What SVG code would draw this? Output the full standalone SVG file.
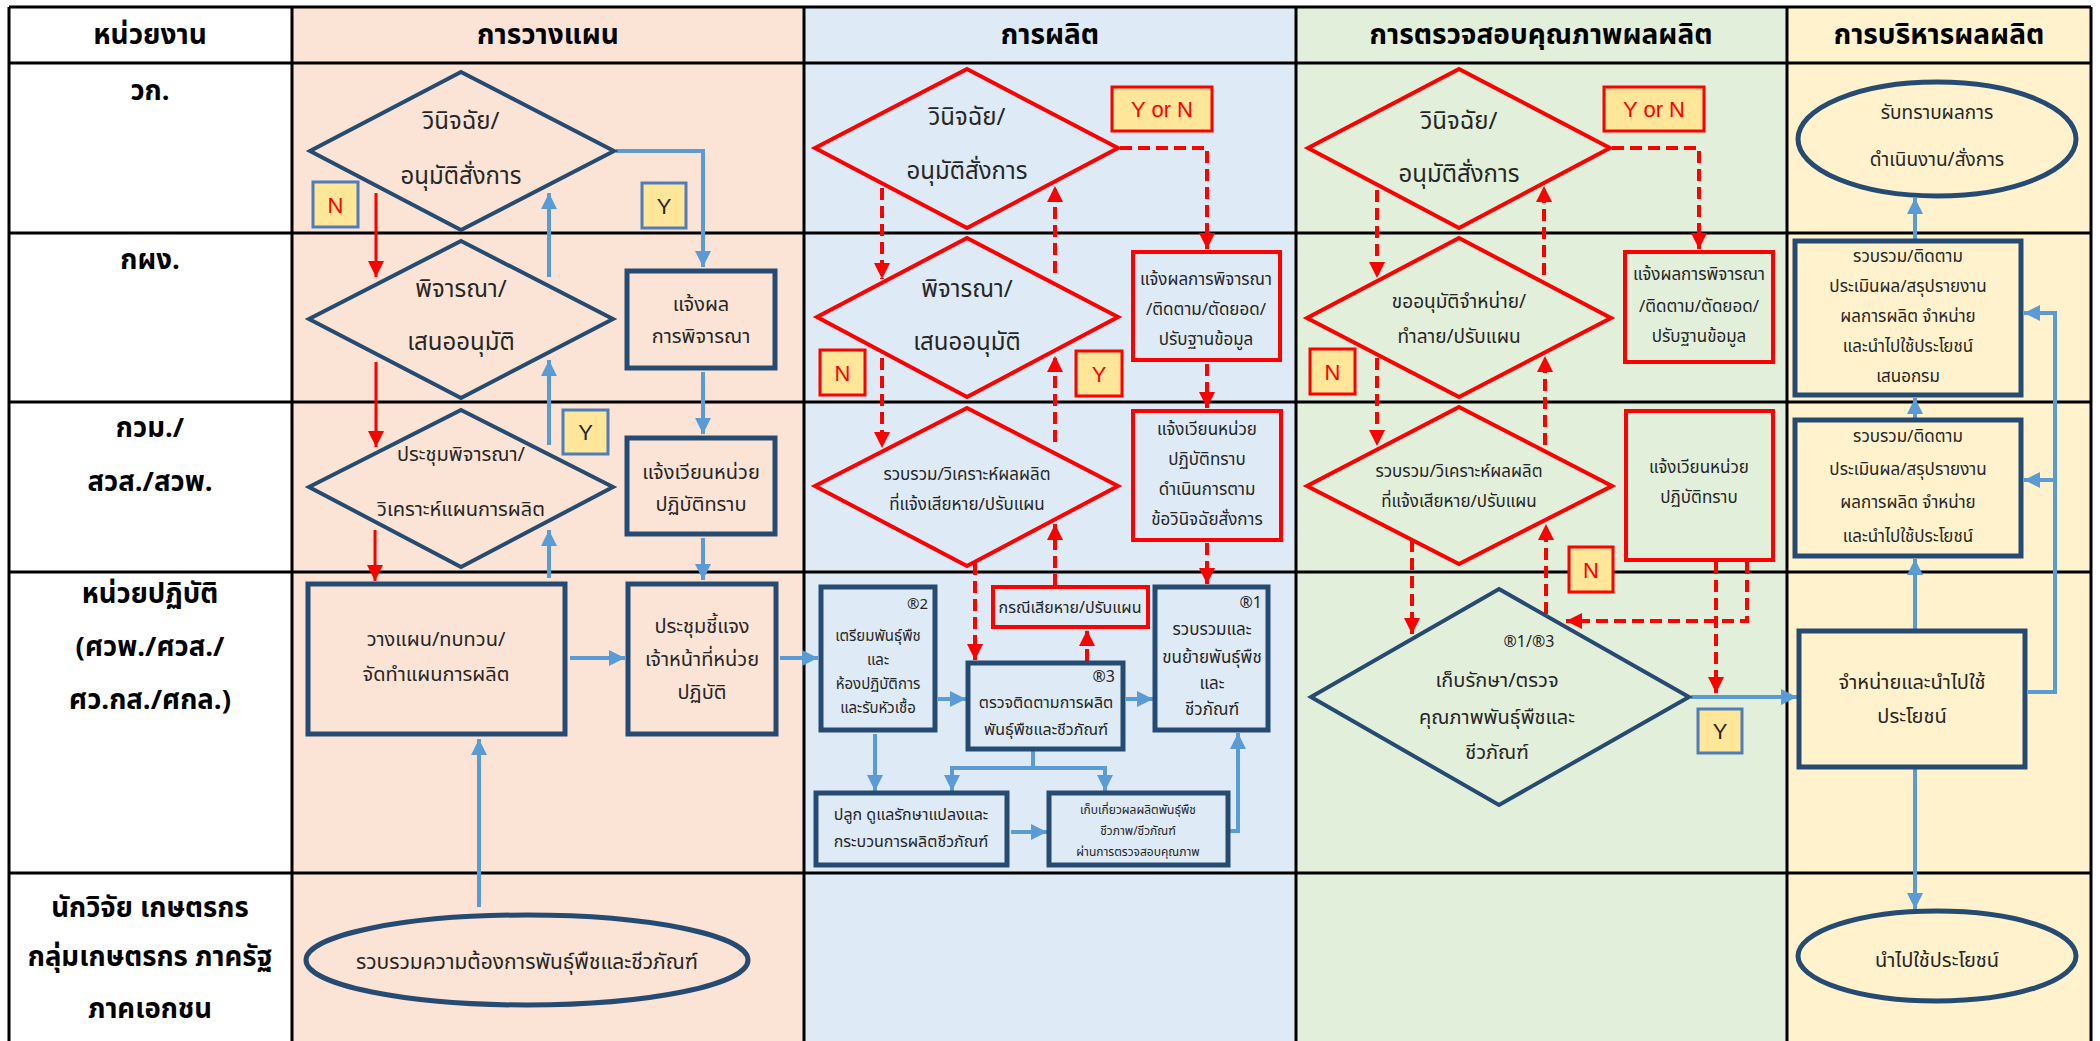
<svg xmlns="http://www.w3.org/2000/svg" width="2100" height="1041" viewBox="0 0 2100 1041">
<defs>
<style>
text{font-family:"Noto Sans Thai","Noto Sans Thai Looped",Tahoma,"Noto Sans",sans-serif;fill:#262626;text-anchor:middle;dominant-baseline:central}
.hd{font-size:28px;font-weight:bold;fill:#000}
.lb{font-size:27.5px;font-weight:bold;fill:#000}
.grid{stroke:#000;stroke-width:3;fill:none}
.bd{fill:none;stroke:#264B73;stroke-width:4}
.bb{fill:none;stroke:#264B73;stroke-width:5}
.rd{fill:none;stroke:#FF0000;stroke-width:4}
.lbY{fill:#FFE699;stroke:#4F7DB8;stroke-width:3}
.lbR{fill:#FFE699;stroke:#FF0000;stroke-width:3}
.yn{font-family:"Liberation Sans",Arial,sans-serif;font-size:22px}
.red{fill:#FF0000}
.blu{fill:none;stroke:#5B9BD5;stroke-width:4}
.rs{fill:none;stroke:#FF0000;stroke-width:3}
.rdash{fill:none;stroke:#FF0000;stroke-width:4;stroke-dasharray:12 6}
</style>
<marker id="ab" markerUnits="userSpaceOnUse" markerWidth="18" markerHeight="16" refX="16" refY="8" orient="auto"><path d="M0,0 L16,8 L0,16 z" fill="#5B9BD5"/></marker>
<marker id="ar" markerUnits="userSpaceOnUse" markerWidth="18" markerHeight="16" refX="16" refY="8" orient="auto"><path d="M0,0 L16,8 L0,16 z" fill="#FF0000"/></marker>
</defs>

<g id="table">
<rect x="9" y="7" width="283" height="1034" fill="#FFFFFF"/>
<rect x="292" y="7" width="512" height="1034" fill="#FBE4D5"/>
<rect x="804" y="7" width="492" height="1034" fill="#DEEAF6"/>
<rect x="1296" y="7" width="491" height="1034" fill="#E2EFDA"/>
<rect x="1787" y="7" width="304" height="1034" fill="#FFF2CC"/>
<path class="grid" d="M9,7 V1041 M292,7 V1041 M804,7 V1041 M1296,7 V1041 M1787,7 V1041 M2091,7 V1041 M9,7 H2091 M9,63 H2091 M9,233 H2091 M9,402 H2091 M9,572 H2091 M9,873 H2091"/>
<text class="hd" x="150" y="35">หน่วยงาน</text>
<text class="hd" x="548" y="35">การวางแผน</text>
<text class="hd" x="1050" y="35">การผลิต</text>
<text class="hd" x="1541" y="35">การตรวจสอบคุณภาพผลผลิต</text>
<text class="hd" x="1939" y="35">การบริหารผลผลิต</text>
<text class="lb" x="150" y="91">วก.</text>
<text class="lb" x="150" y="260">กผง.</text>
<text class="lb" x="150" y="428">กวม./</text>
<text class="lb" x="150" y="482">สวส./สวพ.</text>
<text class="lb" x="150" y="594">หน่วยปฏิบัติ</text>
<text class="lb" x="150" y="647">(ศวพ./ศวส./</text>
<text class="lb" x="150" y="700">ศว.กส./ศกล.)</text>
<text class="lb" x="150" y="908">นักวิจัย เกษตรกร</text>
<text class="lb" x="150" y="957">กลุ่มเกษตรกร ภาครัฐ</text>
<text class="lb" x="150" y="1009">ภาคเอกชน</text>
</g>

<g id="connectors">
<!-- planning -->
<path class="rs" marker-end="url(#ar)" d="M376,193 V277"/>
<path class="rs" marker-end="url(#ar)" d="M376,362 V447"/>
<path class="rs" marker-end="url(#ar)" d="M375,530 V581"/>
<path class="blu" marker-end="url(#ab)" d="M549,578 V530"/>
<path class="blu" marker-end="url(#ab)" d="M549,445 V360"/>
<path class="blu" marker-end="url(#ab)" d="M549,277 V193"/>
<path class="blu" marker-end="url(#ab)" d="M616,151 H703 V267"/>
<path class="blu" marker-end="url(#ab)" d="M703,372 V434"/>
<path class="blu" marker-end="url(#ab)" d="M703,538 V580"/>
<path class="blu" marker-end="url(#ab)" d="M570,658 H625"/>
<path class="blu" marker-end="url(#ab)" d="M780,658 H818"/>
<path class="blu" marker-end="url(#ab)" d="M479,907 V739"/>
<!-- production -->
<path class="rdash" marker-end="url(#ar)" d="M1120,148 H1207 V249"/>
<path class="rdash" marker-end="url(#ar)" d="M1207,364 V408"/>
<path class="rdash" marker-end="url(#ar)" d="M1207,543 V584"/>
<path class="rdash" marker-end="url(#ar)" d="M882,188 V279"/>
<path class="rdash" marker-end="url(#ar)" d="M882,358 V448"/>
<path class="rdash" marker-end="url(#ar)" d="M1055,273 V186"/>
<path class="rdash" marker-end="url(#ar)" d="M1055,442 V356"/>
<path class="rdash" marker-end="url(#ar)" d="M1055,586 V524"/>
<path class="rdash" marker-end="url(#ar)" d="M975,563 V660"/>
<path class="rdash" marker-end="url(#ar)" d="M1087,661 V630"/>
<path class="blu" marker-end="url(#ab)" d="M938,699 H966"/>
<path class="blu" marker-end="url(#ab)" d="M1126,699 H1153"/>
<path class="blu" marker-end="url(#ab)" d="M875,734 V791"/>
<path class="blu" marker-end="url(#ab)" d="M1033,751 V768 H952 V791"/>
<path class="blu" marker-end="url(#ab)" d="M1033,768 H1105 V791"/>
<path class="blu" marker-end="url(#ab)" d="M1011,832 H1047"/>
<path class="blu" marker-end="url(#ab)" d="M1230,831 H1238 V733"/>
<!-- quality -->
<path class="rdash" marker-end="url(#ar)" d="M1612,148 H1699 V249"/>
<path class="rdash" marker-end="url(#ar)" d="M1377,190 V278"/>
<path class="rdash" marker-end="url(#ar)" d="M1377,358 V446"/>
<path class="rdash" marker-end="url(#ar)" d="M1544,275 V186"/>
<path class="rdash" marker-end="url(#ar)" d="M1545,445 V356"/>
<path class="rdash" marker-end="url(#ar)" d="M1412,540 V634"/>
<path class="rdash" marker-end="url(#ar)" d="M1546,614 V524"/>
<path class="rdash" marker-end="url(#ar)" d="M1716,562 V693"/>
<path class="rdash" marker-end="url(#ar)" d="M1747,562 V621 H1566"/>
<path class="blu" marker-end="url(#ab)" d="M1691,697 H1797"/>
<!-- management -->
<path class="blu" marker-end="url(#ab)" d="M1915,239 V198"/>
<path class="blu" marker-end="url(#ab)" d="M1915,418 V398"/>
<path class="blu" marker-end="url(#ab)" d="M1915,629 V559"/>
<path class="blu" marker-end="url(#ab)" d="M1915,769 V909"/>
<path class="blu" marker-end="url(#ab)" d="M2028,692 H2055 V313 H2024"/>
<path class="blu" marker-end="url(#ab)" d="M2055,480 H2024"/>
</g>

<!-- planning nodes -->
<g id="p-decide">
<polygon class="bd" points="461,72 614,151 461,230 310,151"/>
<text x="461" y="122" font-size="24">วินิจฉัย/</text>
<text x="461" y="177" font-size="24">อนุมัติสั่งการ</text>
</g>
<g id="p-n1"><rect class="lbY" x="313" y="182" width="45" height="45"/><text class="yn red" x="335.5" y="205">N</text></g>
<g id="p-y1"><rect class="lbY" x="642" y="183" width="44" height="45"/><text class="yn" x="664" y="206">Y</text></g>
<g id="p-consider">
<polygon class="bd" points="461,241 613,319 461,398 309,319"/>
<text x="461" y="290" font-size="24">พิจารณา/</text>
<text x="461" y="343" font-size="24">เสนออนุมัติ</text>
</g>
<g id="p-meeting">
<polygon class="bd" points="461,410 613,487 461,567 309,487"/>
<text x="461" y="455" font-size="20">ประชุมพิจารณา/</text>
<text x="461" y="510" font-size="20">วิเคราะห์แผนการผลิต</text>
</g>
<g id="p-y2"><rect class="lbY" x="563" y="410" width="45" height="44"/><text class="yn" x="585.5" y="432">Y</text></g>
<g id="p-notify">
<rect class="bb" x="627" y="271" width="148" height="97"/>
<text x="701" y="305" font-size="20">แจ้งผล</text>
<text x="701" y="337" font-size="20">การพิจารณา</text>
</g>
<g id="p-circulate">
<rect class="bb" x="627" y="438" width="148" height="96"/>
<text x="701" y="473" font-size="20">แจ้งเวียนหน่วย</text>
<text x="701" y="505" font-size="20">ปฏิบัติทราบ</text>
</g>
<g id="p-plan">
<rect class="bb" x="308" y="584" width="257" height="150"/>
<text x="436" y="640" font-size="20">วางแผน/ทบทวน/</text>
<text x="436" y="675" font-size="20">จัดทำแผนการผลิต</text>
</g>
<g id="p-brief">
<rect class="bb" x="628" y="584" width="148" height="150"/>
<text x="702" y="627" font-size="20">ประชุมชี้แจง</text>
<text x="702" y="660" font-size="20">เจ้าหน้าที่หน่วย</text>
<text x="702" y="693" font-size="20">ปฏิบัติ</text>
</g>
<g id="p-collect">
<ellipse class="bb" cx="527" cy="960" rx="221" ry="45"/>
<text x="527" y="962" font-size="21">รวบรวมความต้องการพันธุ์พืชและชีวภัณฑ์</text>
</g>

<!-- production nodes -->
<g id="m-decide">
<polygon class="rd" points="967,69 1118,148 967,228 815,148"/>
<text x="967" y="118" font-size="24">วินิจฉัย/</text>
<text x="967" y="172" font-size="24">อนุมัติสั่งการ</text>
</g>
<g id="m-yn"><rect class="lbR" x="1112" y="87" width="100" height="44"/><text class="yn red" x="1162" y="109">Y or N</text></g>
<g id="m-notify">
<rect class="rd" x="1133" y="252" width="147" height="108"/>
<text x="1206" y="280" font-size="17">แจ้งผลการพิจารณา</text>
<text x="1206" y="310" font-size="17">/ติดตาม/ตัดยอด/</text>
<text x="1206" y="340" font-size="17">ปรับฐานข้อมูล</text>
</g>
<g id="m-consider">
<polygon class="rd" points="967,238 1118,317 967,397 817,317"/>
<text x="967" y="290" font-size="24">พิจารณา/</text>
<text x="967" y="343" font-size="24">เสนออนุมัติ</text>
</g>
<g id="m-n"><rect class="lbR" x="820" y="350" width="45" height="45"/><text class="yn red" x="842.5" y="373">N</text></g>
<g id="m-y"><rect class="lbR" x="1076" y="351" width="46" height="45"/><text class="yn red" x="1099" y="374">Y</text></g>
<g id="m-analyse">
<polygon class="rd" points="967,408 1118,486 967,566 815,486"/>
<text x="967" y="475" font-size="17">รวบรวม/วิเคราะห์ผลผลิต</text>
<text x="967" y="505" font-size="17">ที่แจ้งเสียหาย/ปรับแผน</text>
</g>
<g id="m-circulate">
<rect class="rd" x="1133" y="411" width="148" height="129"/>
<text x="1207" y="430" font-size="17">แจ้งเวียนหน่วย</text>
<text x="1207" y="460" font-size="17">ปฏิบัติทราบ</text>
<text x="1207" y="490" font-size="17">ดำเนินการตาม</text>
<text x="1207" y="520" font-size="17">ข้อวินิจฉัยสั่งการ</text>
</g>
<g id="m-prepare">
<rect class="bb" x="821" y="587" width="114" height="143"/>
<text x="928" y="604" font-size="15" style="text-anchor:end">®2</text>
<text x="878" y="636" font-size="15">เตรียมพันธุ์พืช</text>
<text x="878" y="660" font-size="15">และ</text>
<text x="878" y="684" font-size="15">ห้องปฏิบัติการ</text>
<text x="878" y="708" font-size="15">และรับหัวเชื้อ</text>
</g>
<g id="m-damage">
<rect class="rd" x="993" y="587" width="155" height="40"/>
<text x="1070" y="608" font-size="16">กรณีเสียหาย/ปรับแผน</text>
</g>
<g id="m-transport">
<rect class="bb" x="1155" y="587" width="113" height="143"/>
<text x="1262" y="603" font-size="16" style="text-anchor:end">®1</text>
<text x="1212" y="630" font-size="17">รวบรวมและ</text>
<text x="1212" y="658" font-size="17">ขนย้ายพันธุ์พืช</text>
<text x="1212" y="684" font-size="17">และ</text>
<text x="1212" y="710" font-size="17">ชีวภัณฑ์</text>
</g>
<g id="m-monitor">
<rect class="bb" x="968" y="663" width="155" height="86"/>
<text x="1115" y="677" font-size="16" style="text-anchor:end">®3</text>
<text x="1046" y="703" font-size="16">ตรวจติดตามการผลิต</text>
<text x="1046" y="730" font-size="16">พันธุ์พืชและชีวภัณฑ์</text>
</g>
<g id="m-plant">
<rect class="bb" x="816" y="793" width="191" height="72"/>
<text x="911" y="815" font-size="16">ปลูก ดูแลรักษาแปลงและ</text>
<text x="911" y="842" font-size="16">กระบวนการผลิตชีวภัณฑ์</text>
</g>
<g id="m-harvest">
<rect class="bb" x="1049" y="793" width="179" height="72"/>
<text x="1138" y="810" font-size="12">เก็บเกี่ยวผลผลิตพันธุ์พืช</text>
<text x="1138" y="831" font-size="12">ชีวภาพ/ชีวภัณฑ์</text>
<text x="1138" y="852" font-size="12">ผ่านการตรวจสอบคุณภาพ</text>
</g>

<!-- quality nodes -->
<g id="q-decide">
<polygon class="rd" points="1459,69 1610,148 1459,228 1308,148"/>
<text x="1459" y="122" font-size="24">วินิจฉัย/</text>
<text x="1459" y="175" font-size="24">อนุมัติสั่งการ</text>
</g>
<g id="q-yn"><rect class="lbR" x="1604" y="87" width="100" height="44"/><text class="yn red" x="1654" y="109">Y or N</text></g>
<g id="q-notify">
<rect class="rd" x="1625" y="252" width="148" height="110"/>
<text x="1699" y="275" font-size="17">แจ้งผลการพิจารณา</text>
<text x="1699" y="307" font-size="17">/ติดตาม/ตัดยอด/</text>
<text x="1699" y="337" font-size="17">ปรับฐานข้อมูล</text>
</g>
<g id="q-approve">
<polygon class="rd" points="1459,238 1611,318 1459,397 1307,318"/>
<text x="1459" y="302" font-size="19">ขออนุมัติจำหน่าย/</text>
<text x="1459" y="337" font-size="19">ทำลาย/ปรับแผน</text>
</g>
<g id="q-n1"><rect class="lbR" x="1310" y="349" width="45" height="45"/><text class="yn red" x="1332.5" y="372">N</text></g>
<g id="q-analyse">
<polygon class="rd" points="1459,407 1612,486 1459,564 1307,486"/>
<text x="1459" y="472" font-size="17">รวบรวม/วิเคราะห์ผลผลิต</text>
<text x="1459" y="502" font-size="17">ที่แจ้งเสียหาย/ปรับแผน</text>
</g>
<g id="q-circulate">
<rect class="rd" x="1626" y="411" width="147" height="149"/>
<text x="1699" y="468" font-size="17">แจ้งเวียนหน่วย</text>
<text x="1699" y="498" font-size="17">ปฏิบัติทราบ</text>
</g>
<g id="q-n2"><rect class="lbR" x="1569" y="547" width="44" height="45"/><text class="yn red" x="1591" y="570">N</text></g>
<g id="q-store">
<polygon class="bd" points="1499,589 1689,697 1499,805 1311,697"/>
<text x="1529" y="642" font-size="16">®1/®3</text>
<text x="1497" y="681" font-size="20">เก็บรักษา/ตรวจ</text>
<text x="1497" y="718" font-size="20">คุณภาพพันธุ์พืชและ</text>
<text x="1497" y="753" font-size="20">ชีวภัณฑ์</text>
</g>
<g id="q-y"><rect class="lbY" x="1698" y="709" width="44" height="44"/><text class="yn" x="1720" y="731">Y</text></g>

<!-- management nodes -->
<g id="r-ack">
<ellipse class="bb" cx="1937" cy="139" rx="139" ry="57"/>
<text x="1937" y="113" font-size="19">รับทราบผลการ</text>
<text x="1937" y="160" font-size="19">ดำเนินงาน/สั่งการ</text>
</g>
<g id="r-report-dept">
<rect class="bb" x="1795" y="241" width="226" height="154"/>
<text x="1908" y="257" font-size="17">รวบรวม/ติดตาม</text>
<text x="1908" y="287" font-size="17">ประเมินผล/สรุปรายงาน</text>
<text x="1908" y="317" font-size="17">ผลการผลิต จำหน่าย</text>
<text x="1908" y="347" font-size="17">และนำไปใช้ประโยชน์</text>
<text x="1908" y="377" font-size="17">เสนอกรม</text>
</g>
<g id="r-report">
<rect class="bb" x="1795" y="420" width="226" height="136"/>
<text x="1908" y="437" font-size="17">รวบรวม/ติดตาม</text>
<text x="1908" y="470" font-size="17">ประเมินผล/สรุปรายงาน</text>
<text x="1908" y="503" font-size="17">ผลการผลิต จำหน่าย</text>
<text x="1908" y="537" font-size="17">และนำไปใช้ประโยชน์</text>
</g>
<g id="r-distribute">
<rect class="bb" x="1799" y="631" width="226" height="136"/>
<text x="1912" y="683" font-size="20">จำหน่ายและนำไปใช้</text>
<text x="1912" y="717" font-size="20">ประโยชน์</text>
</g>
<g id="r-use">
<ellipse class="bb" cx="1937" cy="956" rx="139" ry="45"/>
<text x="1937" y="961" font-size="20">นำไปใช้ประโยชน์</text>
</g>
</svg>
